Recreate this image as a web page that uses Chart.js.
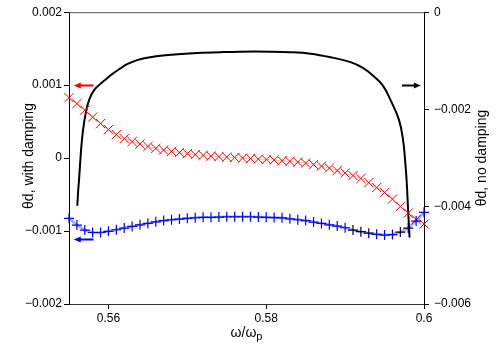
<!DOCTYPE html>
<html>
<head>
<meta charset="utf-8">
<script src="https://cdn.jsdelivr.net/npm/chart.js@4.4.1/dist/chart.umd.min.js"></script>
<style>
  html, body { margin: 0; padding: 0; background: #fff; }
  #wrap { width: 500px; height: 350px; }
</style>
</head>
<body>
<div id="wrap"><canvas id="chart"></canvas></div>
<script>
// frequencies of the marker series (omega / omega_p)
const omega = [0.555, 0.556, 0.557, 0.558, 0.559, 0.560, 0.561, 0.562, 0.563, 0.564,
               0.565, 0.566, 0.567, 0.568, 0.569, 0.570, 0.571, 0.572, 0.573, 0.574,
               0.575, 0.576, 0.577, 0.578, 0.579, 0.580, 0.581, 0.582, 0.583, 0.584,
               0.585, 0.586, 0.587, 0.588, 0.589, 0.590, 0.591, 0.592, 0.593, 0.594,
               0.595, 0.596, 0.597, 0.598, 0.599, 0.600];

// with damping, "x" markers (left axis)
const dampedCross = [0.000829, 0.000747, 0.000658, 0.000562, 0.000473, 0.00039, 0.000322, 0.000267, 0.000226, 0.000192,
                     0.00016, 0.000133, 0.00011, 0.000092, 0.000075, 0.000062, 0.000048, 0.000037, 0.000027, 0.00002,
                     0.000014, 0.000007, 0, -0.000007, -0.000014, -0.00002, -0.000027, -0.000037, -0.000045, -0.000055,
                     -0.000068, -0.000089, -0.00011, -0.000137, -0.000171, -0.000205, -0.00024, -0.00028, -0.000336, -0.000404,
                     -0.000473, -0.000562, -0.000664, -0.000753, -0.000842, -0.000904];

// with damping, "+" markers (left axis)
const dampedPlus = [-0.000826, -0.000918, -0.000986, -0.00102, -0.00102, -0.001004, -0.000982, -0.000959, -0.000936, -0.000914,
                    -0.000895, -0.000873, -0.000856, -0.000845, -0.000836, -0.000826, -0.000818, -0.000812, -0.000812, -0.000808,
                    -0.000804, -0.000804, -0.000804, -0.000804, -0.000808, -0.000812, -0.000815, -0.000819, -0.000832, -0.000845,
                    -0.000856, -0.000877, -0.000895, -0.000915, -0.000932, -0.000955, -0.000986, -0.001009, -0.001029, -0.001045,
                    -0.001055, -0.001048, -0.001014, -0.000959, -0.000863, -0.000744];
const darkPlus = [36, 37, 38, 42, 43];

// no damping, solid curve (right axis)
const undampedX = [0.556054, 0.556168, 0.55627, 0.556397, 0.556562, 0.556778, 0.557121, 0.55754, 0.558175, 0.558937,
                   0.559698, 0.56046, 0.561476, 0.562365, 0.563635, 0.564905, 0.56719, 0.570746, 0.574175, 0.576714,
                   0.580524, 0.583063, 0.585603, 0.588143, 0.590683, 0.592206, 0.593476, 0.594746, 0.595762,
                   0.596841, 0.597349, 0.597603, 0.597794, 0.597984, 0.598175];
const undampedY = [-0.00398, -0.003658, -0.003452, -0.003144, -0.002774, -0.002425, -0.002075, -0.001808, -0.001603, -0.001479,
                   -0.001377, -0.001274, -0.00116, -0.001069, -0.000986, -0.000935, -0.000884, -0.000842, -0.000822, -0.000812,
                   -0.000812, -0.000822, -0.000853, -0.000925, -0.001027, -0.00114, -0.001294, -0.0015, -0.001808,
                   -0.002219, -0.00263, -0.003041, -0.003452, -0.004068, -0.004634];

const xTicks = [0.56, 0.58, 0.6];

// axis-indicator arrows: [tail x, head x, y]
const arrowRed = [0.5581, 0.5556, 0.001];
const arrowBlue = [0.5581, 0.5556, -0.00111];
const arrowBlack = [0.5972, 0.5996, -0.00149];

const FONT = '"Liberation Sans", Arial, sans-serif';

function fmt(v, digits) {
    let r = Math.round(v * Math.pow(10, digits)) / Math.pow(10, digits);
    if (r === 0) return '0';
    return (r < 0 ? '\u2212' : '') + Math.abs(r).toFixed(digits);
}

function drawArrow(ctx, xs, ys, a, color) {
    let x0 = xs.getPixelForValue(a[0]);
    let x1 = xs.getPixelForValue(a[1]);
    let y = Math.round(ys.getPixelForValue(a[2])) + 0.5;
    let dir = Math.sign(x1 - x0);
    ctx.save();
    ctx.strokeStyle = color;
    ctx.fillStyle = color;
    ctx.lineWidth = 2;
    ctx.beginPath();
    ctx.moveTo(x0, y);
    ctx.lineTo(x1 - dir * 5, y);
    ctx.stroke();
    ctx.beginPath();
    ctx.moveTo(x1, y);
    ctx.lineTo(x1 - dir * 7, y - 3);
    ctx.lineTo(x1 - dir * 7, y + 3);
    ctx.closePath();
    ctx.fill();
    ctx.restore();
}

const extras = {
    id: 'extras',
    afterDraw(chart) {
        let ctx = chart.ctx;
        let a = chart.chartArea;
        let xs = chart.scales.x, yl = chart.scales.y, yr = chart.scales.y2;

        ctx.save();
        ctx.strokeStyle = '#555';
        ctx.lineWidth = 1;
        ctx.beginPath();
        ctx.moveTo(a.left, a.top + 0.5);
        ctx.lineTo(a.right, a.top + 0.5);
        ctx.stroke();

        drawArrow(ctx, xs, yl, arrowRed, '#ff0000');
        drawArrow(ctx, xs, yl, arrowBlue, '#0000ff');
        drawArrow(ctx, xs, yr, arrowBlack, '#000000');

        ctx.fillStyle = '#000';
        ctx.font = '14px ' + FONT;
        ctx.textAlign = 'center';
        ctx.textBaseline = 'middle';

        ctx.save();
        ctx.translate(29, 156);
        ctx.rotate(-Math.PI / 2);
        ctx.fillText('\u03b8d, with damping', 0, 0);
        ctx.restore();

        ctx.save();
        ctx.translate(482, 158);
        ctx.rotate(-Math.PI / 2);
        ctx.fillText('\u03b8d, no damping', 0, 0);
        ctx.restore();

        // x title with subscript p
        ctx.textAlign = 'left';
        ctx.textBaseline = 'alphabetic';
        let main = '\u03c9/\u03c9';
        ctx.font = '14px ' + FONT;
        let w1 = ctx.measureText(main).width;
        ctx.font = '11px ' + FONT;
        let w2 = ctx.measureText('p').width;
        let x0 = (a.left + a.right) / 2 - (w1 + w2) / 2;
        ctx.font = '14px ' + FONT;
        ctx.fillText(main, x0, 337);
        ctx.font = '11px ' + FONT;
        ctx.fillText('p', x0 + w1, 340);
        ctx.restore();
    }
};

const tickGrid = { display: true, drawOnChartArea: false, drawTicks: true, tickLength: 5, color: '#000' };

new Chart(document.getElementById('chart'), {
    type: 'scatter',
    data: {
        datasets: [
            {
                label: 'with damping +',
                data: omega.map((x, i) => ({x: x, y: dampedPlus[i]})),
                yAxisID: 'y',
                showLine: true,
                borderColor: 'rgba(0,0,255,0.35)',
                borderWidth: 2.5,
                pointStyle: 'cross',
                pointRadius: 5,
                pointBorderWidth: 1.2,
                pointBorderColor: ctx => darkPlus.includes(ctx.dataIndex) ? '#000033' : '#0000ff',
                clip: false,
            },
            {
                label: 'with damping x',
                data: omega.map((x, i) => ({x: x, y: dampedCross[i]})),
                yAxisID: 'y',
                showLine: true,
                borderColor: 'rgba(255,0,0,0.25)',
                borderWidth: 1,
                pointStyle: 'crossRot',
                pointRadius: 6.5,
                pointBorderWidth: 1,
                pointBorderColor: '#ff0000',
                clip: false,
            },
            {
                label: 'no damping',
                data: undampedX.map((x, i) => ({x: x, y: undampedY[i]})),
                yAxisID: 'y2',
                showLine: true,
                borderColor: '#000',
                borderWidth: 2,
                pointRadius: 0,
                tension: 0.4,
            },
        ],
    },
    options: {
        responsive: true,
        maintainAspectRatio: false,
        animation: false,
        layout: { padding: { top: 12, left: 0, right: 0, bottom: 0 } },
        plugins: {
            legend: { display: false },
            tooltip: { enabled: false },
        },
        scales: {
            x: {
                type: 'linear',
                min: 0.555,
                max: 0.6,
                afterBuildTicks: axis => { axis.ticks = xTicks.map(v => ({value: v})); },
                afterFit: scale => { scale.height = 46; },
                ticks: {
                    color: '#000',
                    font: { family: FONT, size: 12 },
                    padding: 2,
                    maxRotation: 0,
                    callback: v => String(Math.round(v * 100) / 100),
                },
                grid: tickGrid,
                border: { display: true, color: '#333', width: 1 },
            },
            y: {
                position: 'left',
                min: -0.002,
                max: 0.002,
                afterFit: scale => { scale.width = 69; },
                ticks: {
                    stepSize: 0.001,
                    color: '#000',
                    font: { family: FONT, size: 12 },
                    padding: 2,
                    callback: v => fmt(v, 3),
                },
                grid: tickGrid,
                border: { display: true, color: '#000', width: 1 },
            },
            y2: {
                position: 'right',
                min: -0.006,
                max: 0,
                afterFit: scale => { scale.width = 76; },
                ticks: {
                    stepSize: 0.002,
                    color: '#000',
                    font: { family: FONT, size: 12 },
                    padding: 5,
                    callback: v => fmt(v, 3),
                },
                grid: tickGrid,
                border: { display: true, color: '#000', width: 1 },
            },
        },
    },
    plugins: [extras],
});
</script>
</body>
</html>
